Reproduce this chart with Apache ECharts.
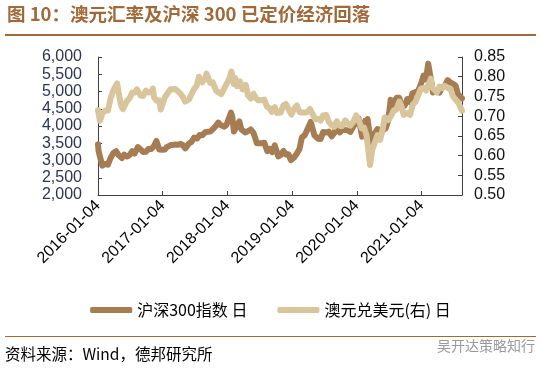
<!DOCTYPE html>
<html><head><meta charset="utf-8">
<script src="https://cdn.jsdelivr.net/npm/echarts@6/dist/echarts.min.js"></script>
<style>html,body{margin:0;padding:0;background:#fff}#c{width:541px;height:369px}</style>
</head><body><div id="c"></div>
<script>
const startDate = '2016-01-04';
const endDate = '2021-08-20';
const yearLabels = ['2016-01-04','2017-01-04','2018-01-04','2019-01-04','2020-01-04','2021-01-04'];
const leftTicks = [2000,2500,3000,3500,4000,4500,5000,5500,6000];
const rightTicks = [0.50,0.55,0.60,0.65,0.70,0.75,0.80,0.85];

const csiDates = ['2016-01-04','2016-01-07','2016-01-15','2016-01-28','2016-02-15','2016-02-29','2016-03-15','2016-03-31','2016-04-15','2016-04-29','2016-05-18','2016-05-31','2016-06-15','2016-06-30','2016-07-15','2016-07-29','2016-08-16','2016-08-31','2016-09-15','2016-09-30','2016-10-14','2016-10-31','2016-11-15','2016-11-29','2016-12-15','2016-12-30',
'2017-01-16','2017-01-26','2017-02-15','2017-02-28','2017-03-15','2017-03-31','2017-04-14','2017-04-28','2017-05-11','2017-05-31','2017-06-15','2017-06-30','2017-07-17','2017-07-31','2017-08-15','2017-08-31','2017-09-15','2017-09-29','2017-10-16','2017-10-31','2017-11-13','2017-11-23','2017-11-30','2017-12-15','2017-12-29',
'2018-01-12','2018-01-24','2018-01-31','2018-02-09','2018-02-28','2018-03-12','2018-03-23','2018-03-30','2018-04-16','2018-04-27','2018-05-15','2018-05-31','2018-06-19','2018-06-29','2018-07-13','2018-07-31','2018-08-17','2018-08-31','2018-09-14','2018-09-28','2018-10-18','2018-10-31','2018-11-16','2018-11-30','2018-12-14','2018-12-28',
'2019-01-03','2019-01-15','2019-01-31','2019-02-15','2019-02-28','2019-03-08','2019-03-15','2019-03-29','2019-04-19','2019-04-30','2019-05-10','2019-05-31','2019-06-14','2019-06-28','2019-07-15','2019-07-31','2019-08-15','2019-08-30','2019-09-12','2019-09-30','2019-10-15','2019-10-31','2019-11-15','2019-11-29','2019-12-16','2019-12-31',
'2020-01-14','2020-01-23','2020-02-03','2020-02-20','2020-02-28','2020-03-05','2020-03-23','2020-03-31','2020-04-15','2020-04-30','2020-05-15','2020-05-29','2020-06-15','2020-06-30','2020-07-13','2020-07-24','2020-07-31','2020-08-17','2020-08-31','2020-09-10','2020-09-30','2020-10-15','2020-10-30','2020-11-13','2020-11-30','2020-12-15','2020-12-31',
'2021-01-15','2021-01-29','2021-02-10','2021-02-26','2021-03-09','2021-03-19','2021-03-31','2021-04-15','2021-04-30','2021-05-14','2021-05-31','2021-06-15','2021-06-30','2021-07-15','2021-07-28','2021-08-05','2021-08-20'];
const csi300 = [3470,3284,3118,2853,2900,2877,3073,3218,3272,3156,3070,3169,3117,3154,3270,3203,3390,3327,3245,3253,3330,3336,3420,3568,3320,3310,
3320,3387,3440,3452,3463,3456,3485,3439,3350,3492,3540,3666,3636,3737,3730,3822,3832,3837,3920,4006,4100,4040,4006,3980,4030,
4225,4389,4275,3840,4023,4135,3904,3899,3810,3756,3900,3802,3500,3510,3500,3517,3268,3335,3240,3438,3117,3153,3280,3173,3180,3011,
2965,3090,3201,3340,3670,3660,3725,3872,4120,3913,3730,3630,3620,3825,3810,3836,3700,3799,3972,3814,3900,3886,3870,3828,3990,4097,
4220,4003,3688,4150,3940,4200,3530,3686,3790,3912,3880,3868,3930,4164,4760,4560,4695,4820,4817,4600,4587,4780,4695,4950,4980,5010,5211,
5460,5351,5808,5336,4970,5020,5048,4970,5123,5150,5331,5260,5224,5170,4920,4960,4800];

const audDates = ['2016-01-04','2016-01-15','2016-01-29','2016-02-15','2016-02-29','2016-03-15','2016-03-31','2016-04-21','2016-04-29','2016-05-13','2016-05-24','2016-06-15','2016-06-30','2016-07-15','2016-07-29','2016-08-11','2016-08-31','2016-09-15','2016-09-30','2016-10-14','2016-10-31','2016-11-09','2016-11-15','2016-11-30','2016-12-15','2016-12-23','2016-12-30',
'2017-01-16','2017-01-31','2017-02-15','2017-02-28','2017-03-15','2017-03-31','2017-04-14','2017-04-28','2017-05-09','2017-05-31','2017-06-15','2017-06-30','2017-07-14','2017-07-27','2017-08-15','2017-08-31','2017-09-08','2017-09-29','2017-10-13','2017-10-31','2017-11-15','2017-11-30','2017-12-08','2017-12-29',
'2018-01-15','2018-01-26','2018-02-09','2018-02-16','2018-02-28','2018-03-15','2018-03-30','2018-04-17','2018-04-30','2018-05-15','2018-05-31','2018-06-15','2018-06-29','2018-07-13','2018-07-31','2018-08-15','2018-08-31','2018-09-11','2018-09-28','2018-10-10','2018-10-31','2018-11-15','2018-11-30','2018-12-14','2018-12-31',
'2019-01-03','2019-01-15','2019-01-31','2019-02-15','2019-02-28','2019-03-15','2019-03-29','2019-04-15','2019-04-30','2019-05-15','2019-05-31','2019-06-14','2019-06-28','2019-07-15','2019-07-31','2019-08-15','2019-08-30','2019-09-13','2019-09-30','2019-10-15','2019-10-31','2019-11-15','2019-11-29','2019-12-16','2019-12-31',
'2020-01-15','2020-01-31','2020-02-14','2020-02-28','2020-03-09','2020-03-19','2020-03-31','2020-04-15','2020-04-30','2020-05-15','2020-05-29','2020-06-10','2020-06-30','2020-07-15','2020-07-31','2020-08-14','2020-08-31','2020-09-10','2020-09-25','2020-10-15','2020-10-30','2020-11-16','2020-11-30','2020-12-15','2020-12-31',
'2021-01-15','2021-01-29','2021-02-25','2021-03-05','2021-03-15','2021-03-31','2021-04-15','2021-04-30','2021-05-14','2021-05-31','2021-06-15','2021-06-30','2021-07-15','2021-07-30','2021-08-10','2021-08-20'];
const audusd = [0.715,0.688,0.708,0.714,0.714,0.745,0.766,0.783,0.761,0.727,0.718,0.738,0.745,0.760,0.760,0.768,0.752,0.751,0.765,0.760,0.761,0.770,0.748,0.739,0.740,0.717,0.722,
0.748,0.758,0.768,0.768,0.769,0.763,0.757,0.748,0.737,0.742,0.756,0.769,0.777,0.800,0.786,0.795,0.808,0.784,0.786,0.765,0.760,0.756,0.751,0.781,
0.796,0.813,0.781,0.797,0.776,0.788,0.768,0.779,0.753,0.745,0.757,0.745,0.740,0.740,0.742,0.724,0.720,0.711,0.723,0.708,0.709,0.727,0.731,0.718,0.704,
0.700,0.719,0.727,0.710,0.709,0.709,0.710,0.718,0.705,0.692,0.693,0.689,0.702,0.703,0.685,0.677,0.673,0.687,0.675,0.675,0.689,0.681,0.676,0.686,0.702,
0.690,0.669,0.671,0.651,0.655,0.576,0.614,0.633,0.652,0.640,0.666,0.697,0.690,0.700,0.715,0.716,0.737,0.728,0.703,0.708,0.703,0.730,0.736,0.752,0.770,
0.772,0.765,0.795,0.772,0.775,0.760,0.775,0.771,0.777,0.772,0.770,0.750,0.742,0.734,0.734,0.714];

function dayNum(s){const p=s.split('-').map(Number);const q=startDate.split('-').map(Number);
  return (Date.UTC(p[0],p[1]-1,p[2])-Date.UTC(q[0],q[1]-1,q[2]))/86400000;}
const YEAR = 365.25;
const csiData = csiDates.map((d,i)=>[dayNum(d),csi300[i]]);
const audData = audDates.map((d,i)=>[dayNum(d),audusd[i]]);

const chart = echarts.init(document.getElementById('c'));
const brown = '#a0693a';
const latin = 'Liberation Sans, Arial, sans-serif';
const cjk = '"Noto Sans CJK SC", sans-serif';
chart.setOption({
  animation:false,
  backgroundColor:'#fff',
  grid:{left:98,right:79,top:57,bottom:174,containLabel:false},
  xAxis:{type:'value',min:0,max:dayNum(endDate),interval:YEAR,
    axisLine:{lineStyle:{color:'#404040',width:1}},
    axisTick:{inside:true,length:4,lineStyle:{color:'#404040'}},
    splitLine:{show:false},
    axisLabel:{rotate:45,margin:8,fontSize:16,color:'#000',fontFamily:latin,showMaxLabel:false,
      formatter:function(v){const k=Math.round(v/YEAR);if(Math.abs(v/YEAR-k)>0.01)return '';return yearLabels[k]||'';}}},
  yAxis:[
    {type:'value',min:leftTicks[0],max:leftTicks[leftTicks.length-1],interval:500,position:'left',
      axisLine:{show:true,lineStyle:{color:'#404040'}},
      axisTick:{show:true,inside:true,length:4,lineStyle:{color:'#404040'}},
      splitLine:{show:false},
      axisLabel:{fontSize:16,color:'#2a3552',fontFamily:latin,margin:16,
        formatter:v=>v.toLocaleString('en-US')}},
    {type:'value',min:rightTicks[0],max:rightTicks[rightTicks.length-1],interval:0.05,position:'right',
      axisLine:{show:true,lineStyle:{color:'#404040'}},
      axisTick:{show:true,inside:true,length:4,lineStyle:{color:'#404040'}},
      splitLine:{show:false},
      axisLabel:{fontSize:16,color:'#111',fontFamily:latin,margin:12,
        formatter:v=>v.toFixed(2)}}
  ],
  legend:{left:'center',top:297,itemWidth:42,itemHeight:6,itemGap:30,icon:'roundRect',
    textStyle:{fontSize:16,color:'#000',fontFamily:cjk},
    data:['沪深300指数 日','澳元兑美元(右) 日']},
  series:[
    {name:'沪深300指数 日',type:'line',data:csiData,showSymbol:false,symbol:'none',
      lineStyle:{width:6,color:'#a67c52',cap:'round',join:'round'},itemStyle:{color:'#a67c52'}},
    {name:'澳元兑美元(右) 日',type:'line',yAxisIndex:1,data:audData,showSymbol:false,symbol:'none',
      lineStyle:{width:6,color:'#d8c59b',cap:'round',join:'round'},itemStyle:{color:'#d8c59b'}}
  ],
  graphic:[
    {type:'text',left:7,top:5,style:{text:'图 10：澳元汇率及沪深 300 已定价经济回落',fill:brown,
      font:'bold 18.5px "Noto Sans CJK SC", sans-serif'}},
    {type:'rect',shape:{x:5,y:34,width:531,height:2},style:{fill:brown}},
    {type:'rect',shape:{x:5,y:336,width:531,height:1},style:{fill:brown}},
    {type:'text',left:5,top:346,style:{text:'资料来源：Wind，德邦研究所',fill:'#000',
      font:'15.5px "Noto Sans CJK SC", sans-serif'}},
    {type:'text',left:437,top:339,style:{text:'吴开达策略知行',fill:'#9a9a9a',
      font:'14px "Noto Sans CJK SC", sans-serif'}}
  ]
});
</script></body></html>
